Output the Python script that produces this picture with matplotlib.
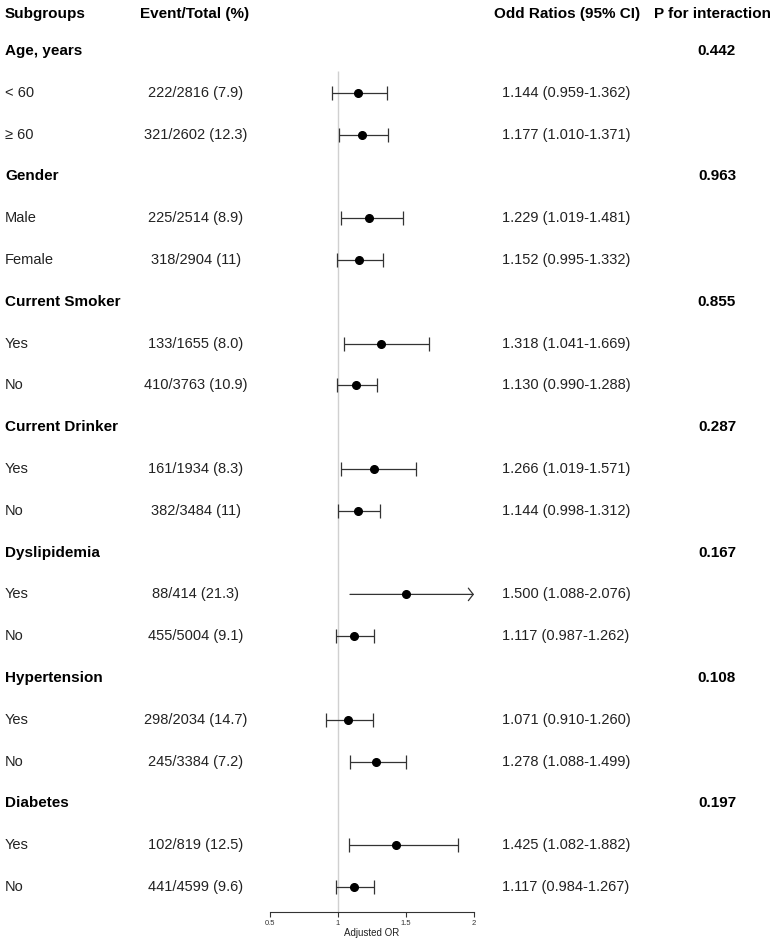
import numpy as np
import matplotlib.pyplot as plt
from matplotlib.transforms import blended_transform_factory

plt.rcParams['font.family'] = ['Liberation Sans', 'DejaVu Sans']

groups = ["Age, years", "Gender", "Current Smoker", "Current Drinker",
          "Dyslipidemia", "Hypertension", "Diabetes"]
p_interaction = ["0.442", "0.963", "0.855", "0.287", "0.167", "0.108", "0.197"]
sub_labels = [["< 60", "\u2265 60"], ["Male", "Female"], ["Yes", "No"], ["Yes", "No"],
              ["Yes", "No"], ["Yes", "No"], ["Yes", "No"]]
events = [["222/2816 (7.9)", "321/2602 (12.3)"],
          ["225/2514 (8.9)", "318/2904 (11)"],
          ["133/1655 (8.0)", "410/3763 (10.9)"],
          ["161/1934 (8.3)", "382/3484 (11)"],
          ["88/414 (21.3)", "455/5004 (9.1)"],
          ["298/2034 (14.7)", "245/3384 (7.2)"],
          ["102/819 (12.5)", "441/4599 (9.6)"]]
or_est = [[1.144, 1.177], [1.229, 1.152], [1.318, 1.130], [1.266, 1.144],
          [1.500, 1.117], [1.071, 1.278], [1.425, 1.117]]
or_lo = [[0.959, 1.010], [1.019, 0.995], [1.041, 0.990], [1.019, 0.998],
         [1.088, 0.987], [0.910, 1.088], [1.082, 0.984]]
or_hi = [[1.362, 1.371], [1.481, 1.332], [1.669, 1.288], [1.571, 1.312],
         [2.076, 1.262], [1.260, 1.499], [1.882, 1.267]]

W, H = 783, 942
fig = plt.figure(figsize=(W / 100, H / 100), dpi=100)

# forest axes: 0.5 -> 270px, 2 -> 474px, bottom spine at 912px
row0_px, row_h = 51, 41.8
axis_px = 912
ax = fig.add_axes([270 / W, (H - axis_px) / H, 204 / W, axis_px / H])
ax.set_xlim(0.5, 2)
r_bottom = 1 + (axis_px - row0_px) / row_h
r_top = 1 - row0_px / row_h
ax.set_ylim(r_bottom, r_top)

def row_of(px):
    return 1 + (px - row0_px) / row_h

for s in ['top', 'right', 'left']:
    ax.spines[s].set_visible(False)
ax.spines['bottom'].set_linewidth(0.8)
ax.spines['bottom'].set_color('#333333')
ax.set_yticks([])
ax.set_xticks([0.5, 1, 1.5, 2])
ax.set_xticklabels(["0.5", "1", "1.5", "2"])
ax.tick_params(axis='x', direction='out', length=3.5, width=0.8, colors='#333333',
               labelsize=5.5, pad=2)
ax.set_xlabel("Adjusted OR", fontsize=7, labelpad=1, color='#222222')

ax.vlines(1, row_of(71), r_bottom, color='#d0d0d0', lw=1, zorder=1)

tr = blended_transform_factory(fig.transFigure, ax.transData)
def fx(px):
    return px / W

hdr_y = row_of(14)
hkw = dict(transform=tr, fontsize=11, fontweight='bold', va='center', clip_on=False)
ax.text(fx(5), hdr_y, "Subgroups", ha='left', **hkw)
ax.text(fx(140), hdr_y, "Event/Total (%)", ha='left', **hkw)
ax.text(fx(567), hdr_y, "Odd Ratios (95% CI)", ha='center', **hkw)
ax.text(fx(712), hdr_y, "P for interaction", ha='center', **hkw)

tkw = dict(transform=tr, fontsize=10.5, va='center', clip_on=False, color='#222222')
r = 1
for g in range(len(groups)):
    ax.text(fx(5), r, groups[g], ha='left', **hkw)
    ax.text(fx(717), r, p_interaction[g], ha='center', **hkw)
    r += 1
    for k in range(2):
        est, lo, hi = or_est[g][k], or_lo[g][k], or_hi[g][k]
        ax.text(fx(5), r, sub_labels[g][k], ha='left', **tkw)
        ax.text(fx(196), r, events[g][k], ha='center', **tkw)
        ax.text(fx(566), r, f"{est:.3f} ({lo:.3f}-{hi:.3f})", ha='center', **tkw)
        if hi > 2:
            ax.annotate('', xy=(2, r), xytext=(lo, r), annotation_clip=False,
                        arrowprops=dict(arrowstyle='->,head_length=0.35,head_width=0.45',
                                        lw=0.9, color='#333333', shrinkA=0, shrinkB=0))
            ax.plot(est, r, 'o', color='black', ms=5.5, zorder=3, clip_on=False)
        else:
            ax.errorbar(est, r, xerr=[[est - lo], [hi - est]], fmt='o', color='black',
                        ms=5.5, ecolor='#333333', elinewidth=0.9, capsize=4.8,
                        capthick=0.9, zorder=3, clip_on=False)
        r += 1

fig.savefig("out.png", dpi=100)
